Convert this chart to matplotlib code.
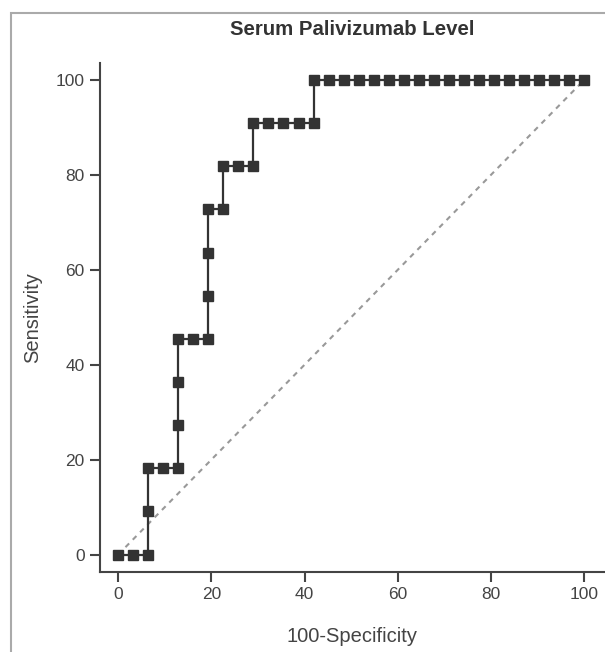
import matplotlib
matplotlib.use("Agg")
from matplotlib import pyplot as plt
from matplotlib.patches import Rectangle

plt.rcParams['font.family'] = ['Liberation Sans', 'DejaVu Sans']

# ROC points (100-specificity, sensitivity)
spec = [0, 3.23, 6.45, 6.45, 6.45, 9.68, 12.90, 12.90, 12.90, 12.90,
        16.13, 19.35, 19.35, 19.35, 19.35, 22.58, 22.58, 25.81, 29.03, 29.03,
        32.26, 35.48, 38.71, 41.94, 41.94, 45.16, 48.39, 51.61, 54.84, 58.06,
        61.29, 64.52, 67.74, 70.97, 74.19, 77.42, 80.65, 83.87, 87.10, 90.32,
        93.55, 96.77, 100]
sens = [0, 0, 0, 9.09, 18.18, 18.18, 18.18, 27.27, 36.36, 45.45,
        45.45, 45.45, 54.55, 63.64, 72.73, 72.73, 81.82, 81.82, 81.82, 90.91,
        90.91, 90.91, 90.91, 90.91, 100, 100, 100, 100, 100, 100,
        100, 100, 100, 100, 100, 100, 100, 100, 100, 100,
        100, 100, 100]
ref_x = [0, 100]
ref_y = [0, 100]
ticks = [0, 20, 40, 60, 80, 100]

fig = plt.figure(figsize=(6.05, 6.52), dpi=100)
# grey frame of the original figure, cut off at right and bottom
fig.patches.append(Rectangle((11 / 605, -0.1), 1.2, 1 - 13 / 652 + 0.1,
                             transform=fig.transFigure, fill=False,
                             edgecolor="#aaaaaa", linewidth=1.5))

ax = fig.add_axes([100 / 605, 1 - 572 / 652, 1.0 - 100 / 605, (572 - 63) / 652])
ax.plot(ref_x, ref_y, color="#999999", linestyle=(0, (2.5, 2.5)), linewidth=1.5)
ax.plot(spec, sens, color="#333333", linewidth=1.6, marker="s",
        markersize=7.4, markerfacecolor="#333333", markeredgecolor="#333333")

ax.set_xlim(-3.9, 104.5)
ax.set_ylim(-3.67, 103.6)
ax.set_xticks(ticks)
ax.set_yticks(ticks)
for s in ["top", "right"]:
    ax.spines[s].set_visible(False)
for s in ["left", "bottom"]:
    ax.spines[s].set_color("#444444")
    ax.spines[s].set_linewidth(1.5)
ax.tick_params(direction="out", length=7, width=1.5, color="#444444",
               labelsize=12.5, labelcolor="#444444", pad=4)

ax.set_title("Serum Palivizumab Level", fontsize=14.7, fontweight="bold",
             color="#333333", pad=20)
ax.set_xlabel("100-Specificity", fontsize=14.5, color="#444444", labelpad=18)
ax.set_ylabel("Sensitivity", fontsize=14.5, color="#444444", labelpad=10)

fig.savefig("out.png", dpi=100)
